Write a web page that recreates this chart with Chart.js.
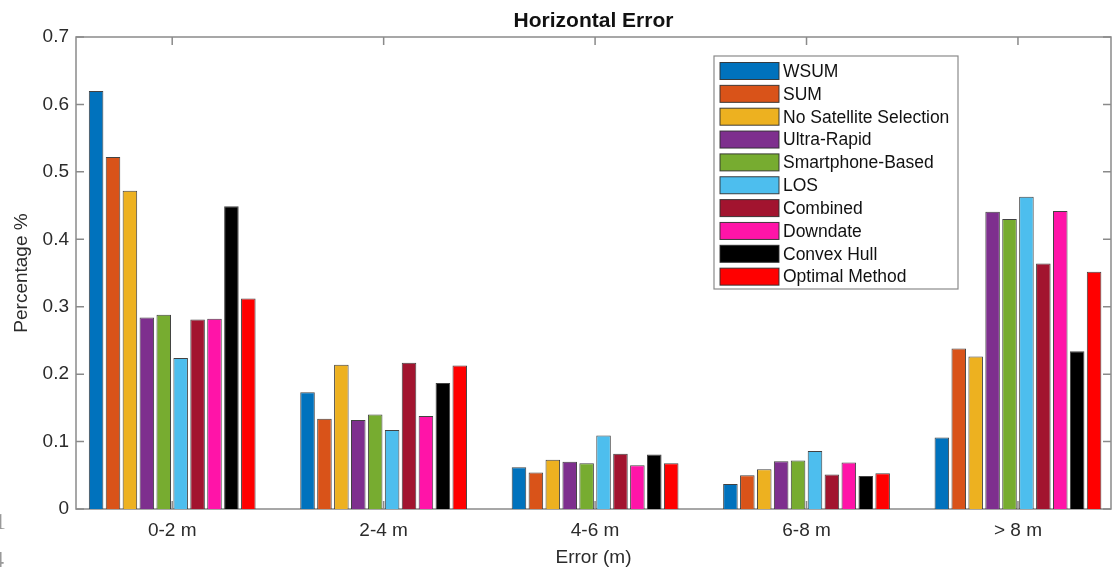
<!DOCTYPE html>
<html>
<head>
<meta charset="utf-8">
<script src="https://cdn.jsdelivr.net/npm/chart.js@4.4.1/dist/chart.umd.min.js"></script>
<style>
  html, body { margin: 0; padding: 0; background: #fff; overflow: hidden; }
  #wrap { width: 1112px; height: 572px; position: relative; }
</style>
</head>
<body>
<div id="wrap"><canvas id="c" width="1112" height="572"></canvas></div>
<script>
// Error bins on the horizontal axis
const categories = ['0-2 m', '2-4 m', '4-6 m', '6-8 m', '> 8 m'];

// Share of epochs per error bin for each method
const wsum        = [0.620, 0.173, 0.062, 0.037, 0.106];
const sum         = [0.522, 0.134, 0.054, 0.050, 0.238];
const noSatSel    = [0.472, 0.214, 0.073, 0.059, 0.226];
const ultraRapid  = [0.284, 0.132, 0.070, 0.071, 0.441];
const smartphone  = [0.288, 0.140, 0.068, 0.072, 0.430];
const los         = [0.224, 0.117, 0.109, 0.086, 0.463];
const combined    = [0.281, 0.217, 0.082, 0.051, 0.364];
const downdate    = [0.282, 0.138, 0.065, 0.069, 0.442];
const convexHull  = [0.449, 0.187, 0.081, 0.049, 0.234];
const optimal     = [0.312, 0.213, 0.068, 0.053, 0.352];

const seriesNames = ['WSUM', 'SUM', 'No Satellite Selection', 'Ultra-Rapid', 'Smartphone-Based',
                     'LOS', 'Combined', 'Downdate', 'Convex Hull', 'Optimal Method'];
const seriesValues = [wsum, sum, noSatSel, ultraRapid, smartphone, los, combined, downdate, convexHull, optimal];
const seriesColors = ['#0072BD', '#D95319', '#EDB120', '#7E2F8E', '#77AC30',
                      '#4DBEEE', '#A2142F', '#FF14A8', '#000000', '#FF0000'];

// Y axis tick values
const yTicks = [0, 0.1, 0.2, 0.3, 0.4, 0.5, 0.6, 0.7];

const FONT = "'Liberation Sans', Arial, sans-serif";
const TEXT = '#2b2b2b';
const AXIS = '#8a8a8a';

// Bars sit at x = 1..5 on a linear scale so the side margins can be tightened
const datasets = seriesNames.map((name, s) => ({
  label: name,
  data: seriesValues[s].map((v, i) => ({ x: i + 1, y: v })),
  backgroundColor: seriesColors[s],
  borderColor: 'rgba(45,45,45,0.9)',
  borderWidth: 1,
  categoryPercentage: 0.8,
  barPercentage: 0.86
}));

// Box around the plot with inward-pointing tick marks
const framePlugin = {
  id: 'frame',
  beforeDatasetsDraw(chart) {
    const { ctx, chartArea: a, scales: { x, y } } = chart;
    ctx.save();
    ctx.strokeStyle = AXIS;
    ctx.lineWidth = 1.5;
    ctx.strokeRect(a.left, a.top, a.right - a.left, a.bottom - a.top);
    ctx.beginPath();
    yTicks.forEach(v => {
      const py = y.getPixelForValue(v);
      ctx.moveTo(a.left, py); ctx.lineTo(a.left + 8, py);
      ctx.moveTo(a.right, py); ctx.lineTo(a.right - 8, py);
    });
    categories.forEach((c, i) => {
      const px = x.getPixelForValue(i + 1);
      ctx.moveTo(px, a.top); ctx.lineTo(px, a.top + 8);
      ctx.moveTo(px, a.bottom); ctx.lineTo(px, a.bottom - 8);
    });
    ctx.stroke();
    ctx.restore();
  }
};

// Boxed legend inside the upper right of the plot
const boxLegendPlugin = {
  id: 'boxLegend',
  afterDraw(chart) {
    const { ctx, chartArea: a } = chart;
    const boxRight = a.right - 153, boxTop = a.top + 19;
    const boxW = 244, rowH = 22.85, boxH = 233;
    const boxLeft = boxRight - boxW;
    ctx.save();
    ctx.fillStyle = '#fff';
    ctx.fillRect(boxLeft, boxTop, boxW, boxH);
    ctx.strokeStyle = AXIS;
    ctx.lineWidth = 1.2;
    ctx.strokeRect(boxLeft, boxTop, boxW, boxH);
    ctx.font = '17.5px ' + FONT;
    ctx.textBaseline = 'middle';
    ctx.textAlign = 'left';
    chart.data.datasets.forEach((ds, i) => {
      const cy = boxTop + 15 + i * rowH;
      ctx.fillStyle = ds.backgroundColor;
      ctx.fillRect(boxLeft + 6, cy - 8.5, 59, 17);
      ctx.strokeStyle = 'rgba(45,45,45,0.9)';
      ctx.lineWidth = 1;
      ctx.strokeRect(boxLeft + 6, cy - 8.5, 59, 17);
      ctx.fillStyle = '#111';
      ctx.fillText(ds.label, boxLeft + 69, cy + 1);
    });
    // clipped glyphs along the left border of the figure
    ctx.fillStyle = '#999';
    ctx.font = "24px 'Liberation Serif', serif";
    ctx.textBaseline = 'alphabetic';
    ctx.fillText('1', -6, 529);
    ctx.fillText('4', -8, 567);
    ctx.restore();
  }
};

new Chart(document.getElementById('c'), {
  type: 'bar',
  data: { datasets },
  options: {
    responsive: false,
    animation: false,
    devicePixelRatio: 1,
    layout: { padding: { left: 0, right: 1, top: 0, bottom: 0 } },
    plugins: {
      legend: { display: false },
      tooltip: { enabled: false },
      title: {
        display: true,
        text: 'Horizontal Error',
        fullSize: false,
        color: '#111',
        font: { family: FONT, size: 21, weight: 'bold' },
        padding: { top: 8.4, bottom: 3.4 }
      }
    },
    scales: {
      x: {
        type: 'linear',
        min: 0.545,
        max: 5.44,
        offset: false,
        grid: { display: false, drawTicks: false },
        border: { display: false },
        afterBuildTicks(scale) {
          scale.ticks = categories.map((c, i) => ({ value: i + 1 }));
        },
        ticks: {
          autoSkip: false,
          maxRotation: 0,
          padding: 10,
          color: TEXT,
          font: { family: FONT, size: 19 },
          callback: v => categories[Math.round(v) - 1]
        },
        title: {
          display: true,
          text: 'Error (m)',
          color: TEXT,
          font: { family: FONT, size: 19 },
          padding: { top: 4, bottom: 2.6 }
        },
        afterFit(scale) { scale.height = 63; }
      },
      y: {
        min: 0,
        max: 0.7,
        grid: { display: false, drawTicks: false },
        border: { display: false },
        afterBuildTicks(scale) {
          scale.ticks = yTicks.map(v => ({ value: v }));
        },
        ticks: {
          padding: 7,
          color: TEXT,
          font: { family: FONT, size: 19 },
          callback: v => (v === 0 ? '0' : Number(v).toFixed(1))
        },
        title: {
          display: true,
          text: 'Percentage %',
          color: TEXT,
          font: { family: FONT, size: 19 },
          padding: { top: 10.5, bottom: 0 }
        },
        afterFit(scale) { scale.width = 76; }
      }
    }
  },
  plugins: [framePlugin, boxLegendPlugin]
});
</script>
</body>
</html>
